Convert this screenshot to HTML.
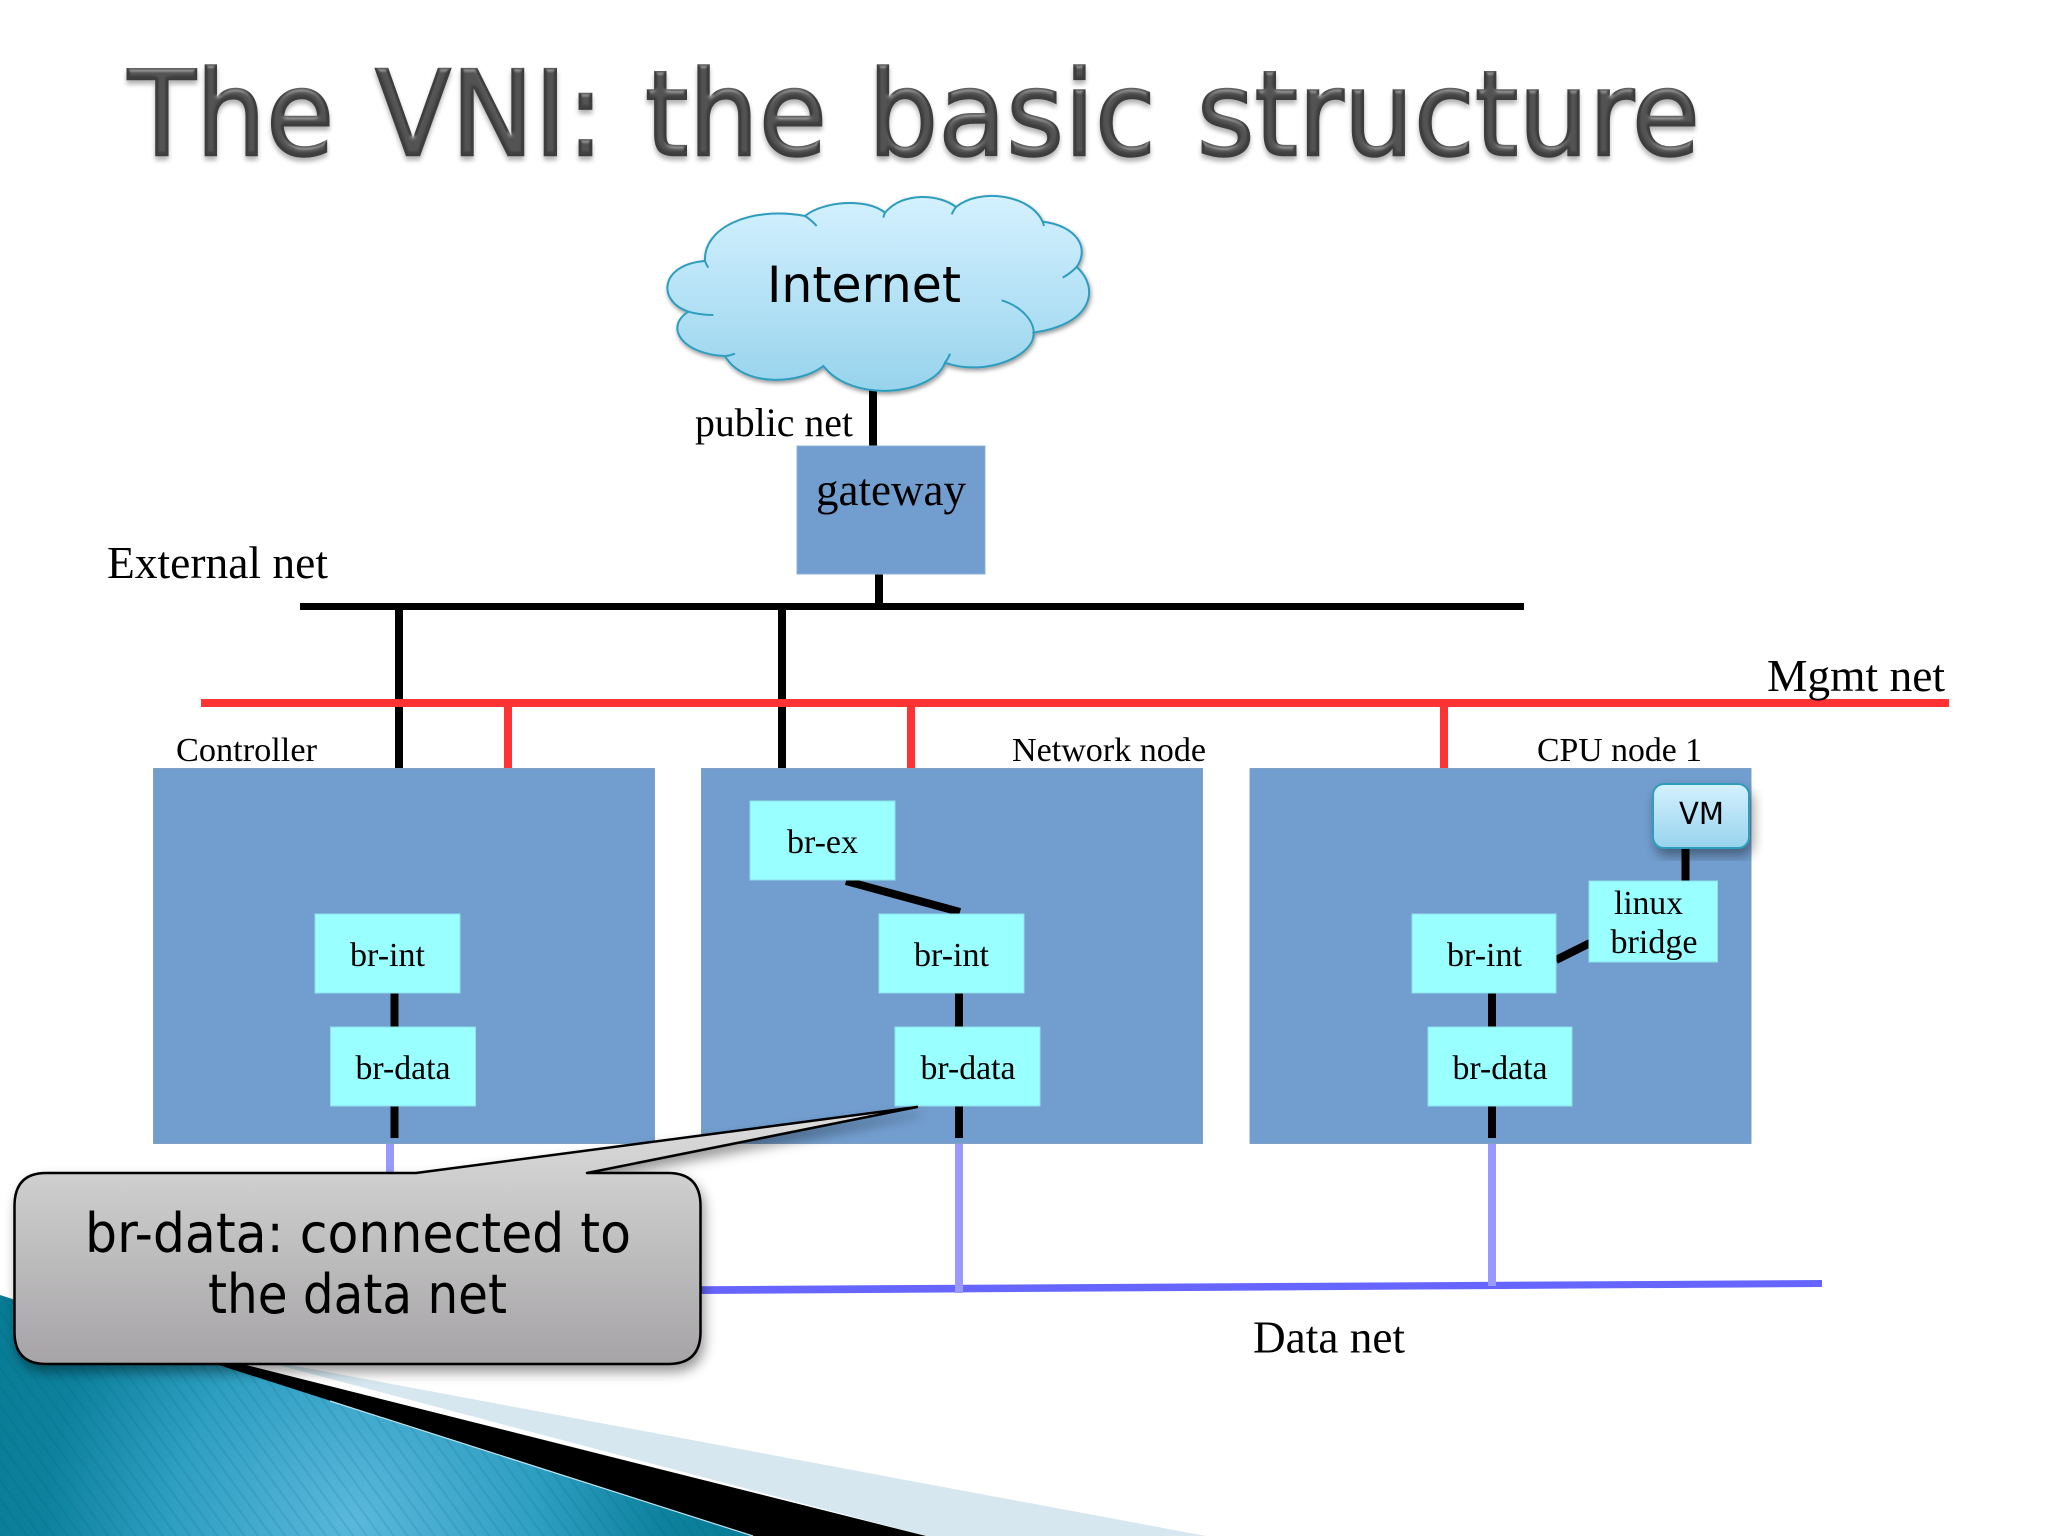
<!DOCTYPE html>
<html lang="en">
<head>
<meta charset="utf-8">
<title>The VNI: the basic structure</title>
<style>
html,body{margin:0;padding:0;background:#fff;width:2048px;height:1536px;overflow:hidden}
svg{display:block}
.s{font-family:"Liberation Serif",serif;fill:#000}
.d{font-family:"DejaVu Sans",sans-serif;fill:#000}
</style>
</head>
<body>
<svg xmlns="http://www.w3.org/2000/svg" width="2048" height="1536" viewBox="0 0 2048 1536">
<defs>
<linearGradient id="cg" x1="0" y1="0" x2="0" y2="1"><stop offset="0" stop-color="#d4f1ff"/><stop offset="1" stop-color="#97d3ec"/></linearGradient>
<linearGradient id="gg" x1="0" y1="0" x2="0" y2="1"><stop offset="0" stop-color="#dedede"/><stop offset="1" stop-color="#a6a4a6"/></linearGradient>
<radialGradient id="tg" gradientUnits="userSpaceOnUse" cx="355" cy="1520" r="430"><stop offset="0" stop-color="#5ab8dc"/><stop offset=".42" stop-color="#2f9fc2"/><stop offset=".72" stop-color="#0c829e"/><stop offset="1" stop-color="#067a93"/></radialGradient>
<pattern id="st" patternUnits="userSpaceOnUse" width="11" height="11" patternTransform="rotate(54)"><rect width="11" height="2" fill="#04566e" opacity=".13"/></pattern>
<filter id="sh" x="-10%" y="-10%" width="125%" height="130%"><feDropShadow dx="3" dy="7" stdDeviation="6" flood-color="#000" flood-opacity=".4"/></filter>
<filter id="ts" x="-2%" y="-10%" width="104%" height="130%">
<feGaussianBlur in="SourceAlpha" stdDeviation="2" result="b"/>
<feSpecularLighting in="b" surfaceScale="2" specularConstant=".22" specularExponent="30" lighting-color="#fff" result="sp"><feDistantLight azimuth="270" elevation="50"/></feSpecularLighting>
<feComposite in="sp" in2="SourceAlpha" operator="in" result="spc"/>
<feOffset in="SourceAlpha" dy="4" result="o"/>
<feGaussianBlur in="o" stdDeviation="2.5" result="ob"/>
<feComponentTransfer in="ob" result="obb"><feFuncA type="linear" slope=".3"/></feComponentTransfer>
<feMerge><feMergeNode in="obb"/><feMergeNode in="SourceGraphic"/><feMergeNode in="spc"/></feMerge>
</filter>
</defs>
<rect width="2048" height="1536" fill="#fff"/>

<!-- corner decoration -->
<polygon points="240,1355 290,1365 1206,1536 926,1536" fill="#d6e7f0"/>
<polygon points="200,1350 226,1360 926,1536 753,1536 200,1375" fill="#000"/>
<polygon points="0,1295 753,1536 0,1536" fill="url(#tg)"/>
<polygon points="0,1295 753,1536 0,1536" fill="url(#st)"/>
<line x1="330" y1="1401" x2="753" y2="1536" stroke="#bfe3ee" stroke-width="1.2"/>

<!-- title -->
<text class="d" x="128" y="155" font-size="118" word-spacing="6" textLength="1572" lengthAdjust="spacingAndGlyphs" style="fill:#424242;stroke:#3c3c3c;stroke-width:2.5" filter="url(#ts)">The VNI: the basic structure</text>

<!-- connector lines -->
<rect x="869" y="380" width="8" height="66" fill="#000"/>
<rect x="875" y="574" width="8" height="32" fill="#000"/>
<rect x="300" y="603" width="1224" height="7" fill="#000"/>
<rect x="395" y="606" width="8" height="162" fill="#000"/>
<rect x="778" y="606" width="8" height="195" fill="#000"/>
<rect x="201" y="699" width="1748" height="8" fill="#ff3333"/>
<rect x="504" y="703" width="8" height="65" fill="#ff3333"/>
<rect x="907" y="703" width="8" height="65" fill="#ff3333"/>
<rect x="1440" y="703" width="8" height="65" fill="#ff3333"/>

<!-- data net -->
<polygon points="380,1288 1822,1280 1822,1287 380,1296" fill="#6666ff"/>
<rect x="386" y="1138" width="8" height="40" fill="#9999ff"/>
<rect x="955" y="1138" width="8" height="155" fill="#9999ff"/>
<rect x="1488" y="1138" width="8" height="148" fill="#9999ff"/>

<!-- node boxes -->
<rect x="153.5" y="768.5" width="501" height="375" fill="#729ecf" stroke="#7f9fc4"/>
<rect x="701.5" y="768.5" width="501" height="375" fill="#729ecf" stroke="#7f9fc4"/>
<rect x="1250" y="768.5" width="501" height="375" fill="#729ecf" stroke="#7f9fc4"/>

<!-- gateway -->
<rect x="797" y="446" width="188" height="128" fill="#729ecf" stroke="#8fb0d8"/>

<!-- internal links -->
<rect x="390.5" y="993" width="8" height="34" fill="#000"/>
<rect x="390.5" y="1106" width="8" height="32" fill="#000"/>
<rect x="955" y="993" width="8" height="34" fill="#000"/>
<rect x="955" y="1106" width="8" height="32" fill="#000"/>
<rect x="1488" y="993" width="8" height="34" fill="#000"/>
<rect x="1488" y="1106" width="8" height="32" fill="#000"/>
<line x1="846" y1="881" x2="960" y2="912" stroke="#000" stroke-width="8"/>
<line x1="1556" y1="960" x2="1590" y2="943" stroke="#000" stroke-width="8"/>
<rect x="1681.5" y="848" width="8" height="33" fill="#000"/>

<!-- bridges -->
<g fill="#99ffff" stroke="#8fe0ea" stroke-width="1">
<rect x="750" y="801" width="145" height="79"/>
<rect x="315" y="914" width="145" height="79"/>
<rect x="330.5" y="1027" width="145" height="79"/>
<rect x="879" y="914" width="145" height="79"/>
<rect x="895" y="1027" width="145" height="79"/>
<rect x="1412" y="914" width="144" height="79"/>
<rect x="1428" y="1027" width="144" height="79"/>
<rect x="1589" y="881" width="128.5" height="81"/>
</g>

<!-- VM -->
<rect x="1653" y="784" width="96" height="64" rx="11" fill="url(#cg)" stroke="#2f9dbd" stroke-width="2" filter="url(#sh)"/>
<text class="d" x="1679" y="824" font-size="30" textLength="45" lengthAdjust="spacingAndGlyphs">VM</text>

<!-- cloud -->
<g transform="translate(640 181) scale(.33333)">
<path filter="url(#sh)" d="M195,240 C190,140 330,75 495,105 C550,60 680,50 735,95 C790,30 900,40 948,78 C1020,20 1170,40 1208,122 C1310,135 1350,200 1310,258 C1380,320 1360,430 1180,455 C1190,520 1040,590 915,545 C880,640 640,670 550,555 C480,610 310,620 255,525 C130,520 70,440 145,392 C50,360 60,250 195,240 Z" fill="url(#cg)" stroke="#2f9dbd" stroke-width="6"/>
<g fill="none" stroke="#2f9dbd" stroke-width="6">
<path d="M195,240 Q198,250 205,260"/>
<path d="M145,392 Q180,402 220,402"/>
<path d="M255,525 Q270,524 285,518"/>
<path d="M495,105 Q515,118 530,135"/>
<path d="M735,95 Q732,102 730,110"/>
<path d="M948,78 Q940,88 935,100"/>
<path d="M1208,122 Q1210,128 1212,135"/>
<path d="M1310,258 Q1290,278 1268,290"/>
<path d="M1085,358 C1140,375 1190,420 1180,470"/>
<path d="M915,545 Q925,532 930,518"/>
</g>
</g>
<text class="d" x="767" y="302" font-size="50" textLength="194" lengthAdjust="spacingAndGlyphs">Internet</text>

<!-- callout -->
<path filter="url(#sh)" d="M46,1173 H416 L917,1107 L587,1173 H668 Q700.5,1173 700.5,1206 V1332 Q700.5,1364 668,1364 H46 Q14.5,1364 14.5,1332 V1206 Q14.5,1173 46,1173 Z" fill="url(#gg)" stroke="#000" stroke-width="2.5" stroke-linejoin="round"/>
<text class="d" x="85" y="1252" font-size="54" textLength="546" lengthAdjust="spacingAndGlyphs">br-data: connected to</text>
<text class="d" x="208" y="1313" font-size="54" textLength="299" lengthAdjust="spacingAndGlyphs">the data net</text>

<!-- labels -->
<g class="s">
<text class="s" x="695" y="436" font-size="40" textLength="158" lengthAdjust="spacingAndGlyphs">public net</text>
<text class="s" x="816" y="505" font-size="45" textLength="150" lengthAdjust="spacingAndGlyphs">gateway</text>
<text class="s" x="107" y="578" font-size="45.5" textLength="221" lengthAdjust="spacingAndGlyphs">External net</text>
<text class="s" x="1767" y="691" font-size="45.5" textLength="178" lengthAdjust="spacingAndGlyphs">Mgmt net</text>
<text class="s" x="176" y="761" font-size="34" textLength="141" lengthAdjust="spacingAndGlyphs">Controller</text>
<text class="s" x="1012" y="761" font-size="34" textLength="194" lengthAdjust="spacingAndGlyphs">Network node</text>
<text class="s" x="1537" y="761" font-size="34" textLength="165" lengthAdjust="spacingAndGlyphs">CPU node 1</text>
<text class="s" x="787" y="853" font-size="33.5" textLength="71" lengthAdjust="spacingAndGlyphs">br-ex</text>
<text class="s" x="350" y="966" font-size="33.5" textLength="75" lengthAdjust="spacingAndGlyphs">br-int</text>
<text class="s" x="914" y="966" font-size="33.5" textLength="75" lengthAdjust="spacingAndGlyphs">br-int</text>
<text class="s" x="1447" y="966" font-size="33.5" textLength="75" lengthAdjust="spacingAndGlyphs">br-int</text>
<text class="s" x="355.5" y="1079" font-size="33.5" textLength="95" lengthAdjust="spacingAndGlyphs">br-data</text>
<text class="s" x="920.5" y="1079" font-size="33.5" textLength="95" lengthAdjust="spacingAndGlyphs">br-data</text>
<text class="s" x="1452.5" y="1079" font-size="33.5" textLength="95" lengthAdjust="spacingAndGlyphs">br-data</text>
<text class="s" x="1614" y="914" font-size="33.5" textLength="69" lengthAdjust="spacingAndGlyphs">linux</text>
<text class="s" x="1610.5" y="953" font-size="33.5" textLength="87" lengthAdjust="spacingAndGlyphs">bridge</text>
<text class="s" x="1253" y="1352.5" font-size="45.5" textLength="152" lengthAdjust="spacingAndGlyphs">Data net</text>
</g>
</svg>
</body>
</html>
